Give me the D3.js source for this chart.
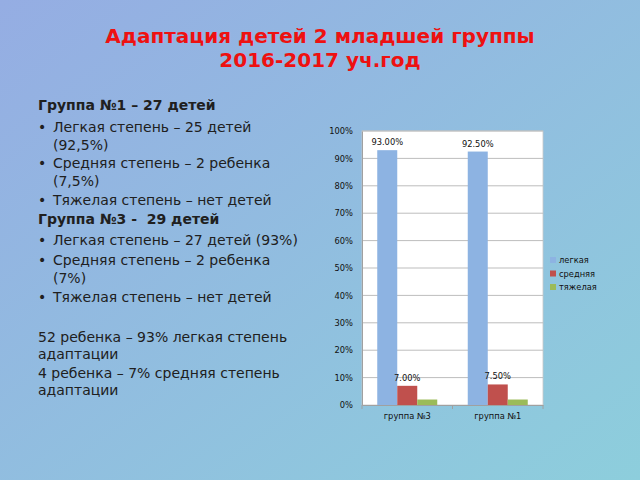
<!DOCTYPE html>
<html><head><meta charset="utf-8">
<script src="https://cdn.jsdelivr.net/npm/d3@7"></script>
<style>body{margin:0;padding:0;overflow:hidden}svg{display:block}text{white-space:pre}</style>
</head><body>
<script>
const categories = ["группа №3", "группа №1"];
const seriesNames = ["легкая", "средняя", "тяжелая"];
const legkaya = [93.0, 92.5];
const srednyaya = [7.0, 7.5];
const tyazhelaya = [2.0, 2.0];
const seriesColors = ["#8db3e2", "#c0504d", "#9bbb59"];
const yTicks = [0,10,20,30,40,50,60,70,80,90,100];
const titleLines = ["Адаптация детей 2 младшей группы", "2016-2017 уч.год"];
const textLines = [
  {t:"Группа №1 – 27 детей", b:true},
  {t:"Легкая степень – 25 детей", bullet:true},
  {t:"(92,5%)", indent:true},
  {t:"Средняя степень – 2 ребенка", bullet:true},
  {t:"(7,5%)", indent:true},
  {t:"Тяжелая степень – нет детей", bullet:true},
  {t:"Группа №3 -  29 детей", b:true},
  {t:"Легкая степень – 27 детей (93%)", bullet:true},
  {t:"Средняя степень – 2 ребенка", bullet:true},
  {t:"(7%)", indent:true},
  {t:"Тяжелая степень – нет детей", bullet:true},
  {t:"52 ребенка – 93% легкая степень"},
  {t:"адаптации"},
  {t:"4 ребенка – 7% средняя степень"},
  {t:"адаптации"}
];
const textY = [110,132,150,168,186,205,224,245,265,283,302,342,359,378,395];

const W=640,H=480;
const svg=d3.select("body").append("svg").attr("width",W).attr("height",H);
const defs=svg.append("defs");
const lg=defs.append("linearGradient").attr("id","bg").attr("x1","0").attr("y1","0").attr("x2","1").attr("y2","1");
lg.append("stop").attr("offset","0").attr("stop-color","#95ade3");
lg.append("stop").attr("offset","1").attr("stop-color","#8dcedc");
svg.append("rect").attr("width",W).attr("height",H).attr("fill","url(#bg)");

// title
svg.append("g").selectAll("text").data(titleLines).join("text")
  .attr("x",320).attr("y",(d,i)=>43+i*24).attr("text-anchor","middle")
  .attr("font-family","DejaVu Sans").attr("font-weight","bold").attr("font-size",20)
  .attr("fill","#ee1111").text(d=>d);

// left text
const tg=svg.append("g").attr("font-family","DejaVu Sans").attr("font-size",14).attr("fill","#202020");
textLines.forEach((d,i)=>{
  const x = d.bullet||d.indent ? 53 : 38;
  tg.append("text").attr("x",x).attr("y",textY[i]).attr("font-weight",d.b?"bold":"normal").text(d.t);
  if(d.bullet) tg.append("text").attr("x",38).attr("y",textY[i]).text("•");
});

// chart
const pL=362,pR=543,pT=131,pB=405;
const fs=8.3;
const x0=d3.scaleBand().domain(categories).range([pL,pR]);
const barW=20;
const x1=d3.scaleBand().domain(seriesNames).range([0,barW*3]);
const y=d3.scaleLinear().domain([0,100]).range([pB,pT]);
svg.append("rect").attr("x",pL).attr("y",pT).attr("width",pR-pL).attr("height",pB-pT).attr("fill","#fff").attr("stroke","#c8c8c8").attr("stroke-width",0.8);
svg.append("g").selectAll("line").data(yTicks.filter(d=>d>0)).join("line")
  .attr("x1",pL).attr("x2",pR).attr("y1",d=>y(d)).attr("y2",d=>y(d)).attr("stroke","#bdbdbd").attr("stroke-width",1);

const yAxis=svg.append("g").attr("transform",`translate(${pL},0)`)
  .call(d3.axisLeft(y).tickValues(yTicks).tickFormat(d=>d+"%").tickSize(0).tickPadding(9));
yAxis.select(".domain").attr("stroke","#a0a0a0");
yAxis.selectAll("text").attr("font-family","DejaVu Sans").attr("font-size",fs).attr("fill","#111");

const series=[legkaya,srednyaya,tyazhelaya];
const data=[];
categories.forEach((c,ci)=>seriesNames.forEach((s,si)=>data.push({c,s,si,v:series[si][ci]})));
const off=(x0.bandwidth()-barW*3)/2;
svg.append("g").selectAll("rect").data(data).join("rect")
  .attr("x",d=>x0(d.c)+off+x1(d.s)).attr("y",d=>y(d.v)).attr("width",x1.bandwidth())
  .attr("height",d=>pB-y(d.v)).attr("fill",d=>seriesColors[d.si]);
svg.append("g").selectAll("text").data(data.filter(d=>d.si<2)).join("text")
  .attr("x",d=>x0(d.c)+off+x1(d.s)+x1.bandwidth()/2).attr("y",d=>y(d.v)-5)
  .attr("text-anchor","middle").attr("font-family","DejaVu Sans").attr("font-size",fs).attr("fill","#111")
  .text(d=>d.v.toFixed(2)+"%");

const xAxis=svg.append("g").attr("transform",`translate(0,${pB})`)
  .call(d3.axisBottom(x0).tickSize(0).tickPadding(8));
xAxis.select(".domain").attr("stroke","#a0a0a0");
xAxis.selectAll("text").attr("font-family","DejaVu Sans").attr("font-size",fs).attr("fill","#111");
svg.append("g").selectAll("line").data([pL,(pL+pR)/2,pR]).join("line")
  .attr("x1",d=>d).attr("x2",d=>d).attr("y1",pB).attr("y2",pB+4).attr("stroke","#a0a0a0");

// legend
const leg=svg.append("g").selectAll("g").data(seriesNames).join("g")
  .attr("transform",(d,i)=>`translate(550,${260+i*13.5})`);
leg.append("rect").attr("x",0).attr("y",-3).attr("width",6).attr("height",6).attr("fill",(d,i)=>seriesColors[i]);
leg.append("text").attr("x",9).attr("y",3).attr("font-family","DejaVu Sans").attr("font-size",fs).attr("fill","#111").text(d=>d);
</script>
</body></html>
